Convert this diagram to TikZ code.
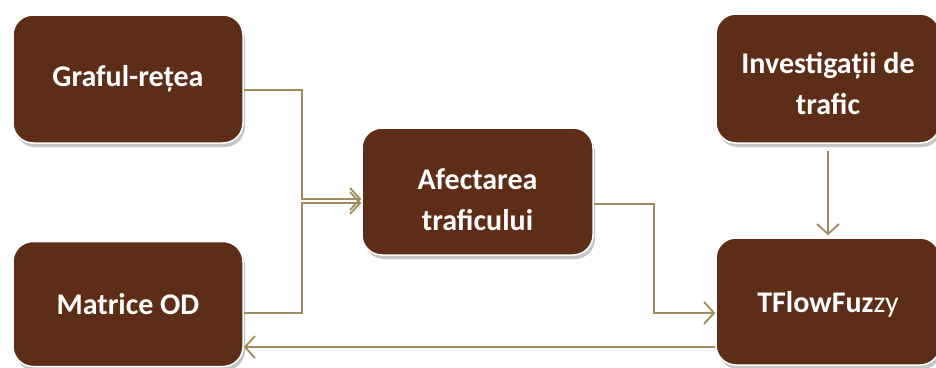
\documentclass[tikz,border=0pt]{standalone}
\usepackage{fontspec}
\setmainfont{Carlito}
\usetikzlibrary{arrows.meta,shadows,calc}
\definecolor{boxbrown}{HTML}{5E2D17}
\definecolor{linek}{HTML}{A08A5F}
\tikzset{
  box/.style={rectangle, rounded corners=20pt, fill=boxbrown, draw=white, line width=1.5pt,
    text=white, font=\fontsize{30}{41}\selectfont\bfseries, align=center, inner sep=0pt,
    drop shadow={opacity=0.45, shadow xshift=2pt, shadow yshift=-4pt}},
  conn/.style={draw=linek, line width=1.8pt},
  tip/.style={-{Straight Barb[length=10pt,width=22pt,line width=1.8pt]}}
}
\begin{document}
\begin{tikzpicture}[x=1pt,y=-1pt]
\useasboundingbox (0,0) rectangle (936,367);
\node[box, minimum width=230pt, minimum height=128pt] (g) at (128,79) {Graful-rețea};
\node[box, minimum width=230pt, minimum height=125pt] (m) at (128,304) {Matrice OD};
\node[box, minimum width=231pt, minimum height=127pt] (a) at (477.5,191.5) {\rule{0pt}{37pt}Afectarea\\traficului};
\node[box, minimum width=224pt, minimum height=129pt] (i) at (828,78.5) {\rule{0pt}{32pt}Investigații de\\trafic};
\node[box, minimum width=224pt, minimum height=127pt] (t) at (828,301.5) {\rule{0pt}{27pt}TFlowFuz\mdseries zy};
\coordinate (gout) at ($(g.east)+(0,11)$);
\coordinate (ain1) at ($(a.west)+(0,7.5)$);
\coordinate (ain2) at ($(a.west)+(0,11.5)$);
\coordinate (mout) at ($(m.east)+(0,9)$);
\coordinate (aout) at ($(a.east)+(0,12.5)$);
\coordinate (tin) at ($(t.west)+(0,11.5)$);
\coordinate (tout) at ($(t.west)+(0,45.5)$);
\coordinate (min) at ($(m.east)+(0,43)$);
\draw[conn, tip] (gout) -- (302,90) |- (ain1);
\draw[conn, tip] (mout) -- (302,313) |- (ain2);
\draw[conn, tip] (aout) -- (654,204) |- (tin);
\draw[conn, tip, shorten <=7pt, shorten >=2pt] (i.south) -- (t.north);
\draw[conn, tip] (tout) -- (min);
\end{tikzpicture}
\end{document}
